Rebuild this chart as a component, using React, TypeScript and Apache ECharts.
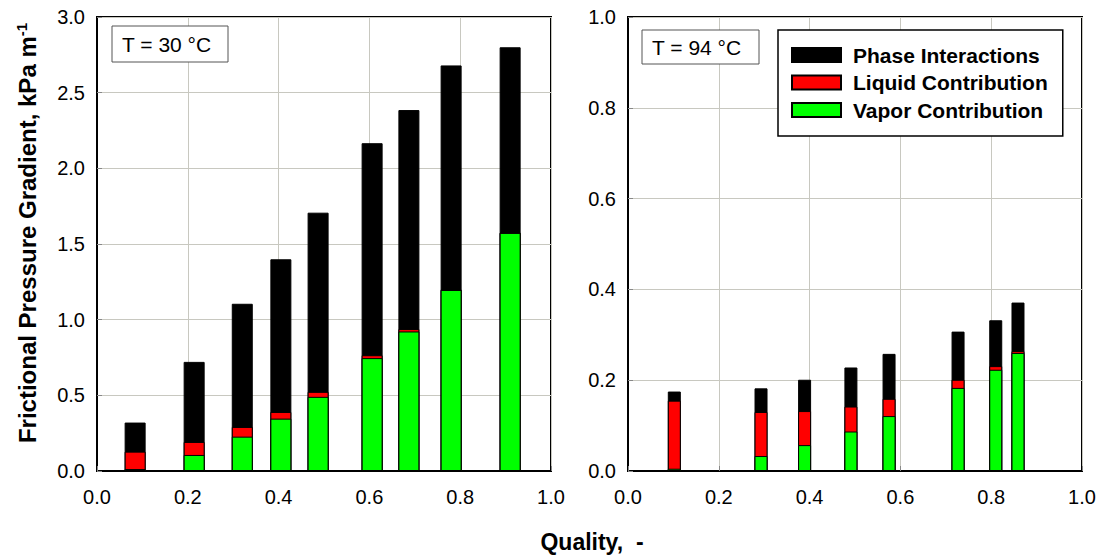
import React, { useEffect, useRef } from "react";
import * as echarts from "echarts";

// ---------- data ----------
const quality30 = [0.084, 0.214, 0.32, 0.405, 0.487, 0.606, 0.687, 0.78, 0.91];
const vapor30 = [0.013, 0.106, 0.227, 0.346, 0.49, 0.746, 0.922, 1.196, 1.573];
const liquid30 = [0.115, 0.086, 0.064, 0.044, 0.033, 0.019, 0.016, 0.004, 0.003];
const phase30 = [0.192, 0.529, 0.814, 1.009, 1.184, 1.401, 1.447, 1.48, 1.224];

const quality94 = [0.102, 0.293, 0.389, 0.491, 0.575, 0.727, 0.81, 0.859];
const vapor94 = [0.005, 0.033, 0.057, 0.087, 0.121, 0.183, 0.223, 0.26];
const liquid94 = [0.15, 0.097, 0.075, 0.055, 0.038, 0.018, 0.008, 0.004];
const phase94 = [0.02, 0.052, 0.069, 0.086, 0.099, 0.106, 0.101, 0.107];

const seriesNames = ["Phase Interactions", "Liquid Contribution", "Vapor Contribution"];
const seriesColors = ["#000000", "#ff0000", "#00ff00"];
const panelLabels = ["T = 30 °C", "T = 94 °C"];
const yTitle = "Frictional Pressure Gradient, kPa m";
const yTitleSup = "-1";
const xTitle = "Quality,  -";

const xRange = [0, 1, 0.2];
const yRange30 = [0, 3, 0.5];
const yRange94 = [0, 1, 0.2];

const FONT = "'Liberation Sans', Arial, sans-serif";

export default function App() {
  const ref = useRef<HTMLDivElement>(null);

  useEffect(() => {
    if (!ref.current) return;
    const chart = echarts.init(ref.current, undefined, { renderer: "svg" });

    const gridLine = { show: true, lineStyle: { color: "#c8c8c0", width: 1 } };
    const axisLine = { show: true, lineStyle: { color: "#000", width: 2 } };
    const label = {
      color: "#000",
      fontSize: 20,
      fontFamily: FONT,
      formatter: (v: number) => v.toFixed(1),
    };
    const tick = { show: true, inside: true, length: 5, lineStyle: { color: "#888" } };

    const makeX = (gi: number) => ({
      type: "value",
      gridIndex: gi,
      min: xRange[0],
      max: xRange[1],
      interval: xRange[2],
      axisLine,
      axisTick: tick,
      splitLine: gridLine,
      axisLabel: { ...label, margin: 16 },
    });
    const makeY = (gi: number, r: number[]) => ({
      type: "value",
      gridIndex: gi,
      min: r[0],
      max: r[1],
      interval: r[2],
      axisLine,
      axisTick: tick,
      splitLine: gridLine,
      axisLabel: { ...label, margin: 12 },
    });

    // Components listed bottom -> top: vapor, liquid, phase.
    // Each column is drawn as overlapping bars from zero with running totals,
    // tallest (total) first so the lower segments sit on top of it.
    const makeSeries = (
      gi: number,
      q: number[],
      vapor: number[],
      liquid: number[],
      phase: number[],
      width: number
    ) => {
      const lower = [vapor, liquid, phase];
      const nameIdx = [2, 1, 0];
      const out: any[] = [];
      for (let level = 2; level >= 0; level--) {
        const data = q.map((x, i) => {
          let s = 0;
          for (let k = 0; k <= level; k++) s += lower[k][i];
          return [x, +s.toFixed(4)];
        });
        const k = nameIdx[level];
        out.push({
          type: "bar",
          name: seriesNames[k],
          xAxisIndex: gi,
          yAxisIndex: gi,
          barWidth: width,
          barGap: "-100%",
          data,
          itemStyle: { color: seriesColors[k], borderColor: "#000", borderWidth: 1 },
        });
      }
      return out;
    };

    const textBox = (x: number, y: number, w: number, h: number, txt: string) => ({
      type: "group",
      children: [
        {
          type: "rect",
          shape: { x, y, width: w, height: h },
          style: { fill: "#fff", stroke: "#555", lineWidth: 1 },
          z: 10,
        },
        {
          type: "text",
          x: x + 10,
          y: y + h / 2,
          style: {
            text: txt,
            fill: "#000",
            font: `21px ${FONT}`,
            verticalAlign: "middle",
            align: "left",
          },
          z: 11,
        },
      ],
    });

    chart.setOption({
      animation: false,
      backgroundColor: "#fff",
      grid: [
        { left: 97, top: 17, width: 454, height: 454, show: true, borderColor: "#000", borderWidth: 2 },
        { left: 628, top: 17, width: 454, height: 454, show: true, borderColor: "#000", borderWidth: 2 },
      ],
      xAxis: [makeX(0), makeX(1)],
      yAxis: [makeY(0, yRange30), makeY(1, yRange94)],
      legend: {
        data: seriesNames,
        orient: "vertical",
        left: 778,
        top: 30,
        itemWidth: 49,
        itemHeight: 14,
        itemGap: 5.5,
        padding: [14, 15, 15, 13],
        backgroundColor: "#fff",
        borderColor: "#000",
        borderWidth: 1.5,
        icon: "rect",
        textStyle: {
          color: "#000",
          fontSize: 21,
          fontWeight: "bold",
          fontFamily: FONT,
          lineHeight: 22,
          padding: [0, 0, 0, 7],
        },
        z: 20,
      },
      graphic: [
        textBox(112, 26, 116, 36, panelLabels[0]),
        textBox(642, 30, 117, 34, panelLabels[1]),
        {
          type: "text",
          x: 27,
          y: 233,
          rotation: Math.PI / 2,
          style: {
            text: `{a|${yTitle}}{s|${yTitleSup}}`,
            align: "center",
            verticalAlign: "middle",
            fill: "#000",
            rich: {
              a: { fontSize: 24, fontWeight: "bold", fontFamily: FONT, lineHeight: 27, fill: "#000" },
              s: { fontSize: 15, fontWeight: "bold", fontFamily: FONT, lineHeight: 15, verticalAlign: "top", fill: "#000" },
            },
          },
        },
        {
          type: "text",
          x: 592,
          y: 542,
          style: {
            text: xTitle,
            align: "center",
            verticalAlign: "middle",
            fill: "#000",
            font: `bold 23px ${FONT}`,
          },
        },
      ],
      series: [
        ...makeSeries(0, quality30, vapor30, liquid30, phase30, 21),
        ...makeSeries(1, quality94, vapor94, liquid94, phase94, 13),
      ],
    });

    return () => chart.dispose();
  }, []);

  return (
    <div
      ref={ref}
      style={{ position: "fixed", left: 0, top: 0, width: 1102, height: 559 }}
    />
  );
}
